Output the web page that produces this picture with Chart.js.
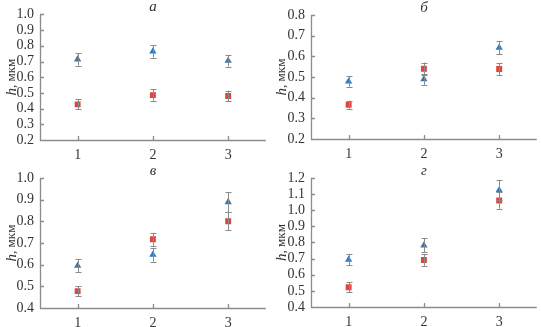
<!DOCTYPE html>
<html>
<head>
<meta charset="utf-8">
<script src="https://cdn.jsdelivr.net/npm/chart.js@4/dist/chart.umd.min.js"></script>
<style>
  html, body { margin: 0; padding: 0; background: #fff; }
  body { width: 541px; height: 327px; position: relative; overflow: hidden; }
  .p { position: absolute; }
</style>
</head>
<body>
<div class="p" style="left:0;top:0;width:270px;height:160px"><canvas id="ca"></canvas></div>
<div class="p" style="left:270px;top:0;width:271px;height:160px"><canvas id="cb"></canvas></div>
<div class="p" style="left:0;top:160px;width:270px;height:167px"><canvas id="cc"></canvas></div>
<div class="p" style="left:270px;top:160px;width:271px;height:167px"><canvas id="cd"></canvas></div>
<script>
// ---- data ----
const categories = [1, 2, 3];
const panelTitles = ['а', 'б', 'в', 'г'];

const triA = [0.714, 0.764, 0.705];
const triErrA = [0.040, 0.039, 0.037];
const sqA = [0.427, 0.486, 0.480];
const sqErrA = [0.032, 0.036, 0.034];

const triB = [0.479, 0.489, 0.642];
const triErrB = [0.026, 0.027, 0.033];
const sqB = [0.366, 0.540, 0.539];
const sqErrB = [0.020, 0.030, 0.029];

const triC = [0.595, 0.646, 0.889];
const triErrC = [0.030, 0.032, 0.046];
const sqC = [0.478, 0.717, 0.800];
const sqErrC = [0.023, 0.030, 0.042];

const triD = [0.694, 0.782, 1.124];
const triErrD = [0.035, 0.044, 0.062];
const sqD = [0.522, 0.692, 1.061];
const sqErrD = [0.030, 0.036, 0.052];

const yMinA = 0.2, yMaxA = 1.0, yStepA = 0.1;
const yMinB = 0.2, yMaxB = 0.8, yStepB = 0.1;
const yMinC = 0.4, yMaxC = 1.0, yStepC = 0.1;
const yMinD = 0.4, yMaxD = 1.2, yStepD = 0.1;

// ---- styling ----
const BLUE = '#2f79bd';
const RED = '#dc4640';
const ERR = '#8a8a8a';
const AXIS = '#8c8c8c';
const TXT = '#333333';
const FONT = "'Liberation Serif', 'Times New Roman', serif";

const decorPlugin = {
  id: 'decor',
  afterDatasetsDraw(chart, args, opts) {
    const ctx = chart.ctx;
    const xs = chart.scales.x, ys = chart.scales.y;
    const ca = chart.chartArea;
    ctx.save();
    // error bars
    ctx.strokeStyle = ERR;
    ctx.lineWidth = 1;
    chart.data.datasets.forEach(ds => {
      ds.data.forEach((pt, i) => {
        const e = ds.errors[i];
        const px = Math.round(xs.getPixelForValue(pt.x)) + 0.5;
        const y1 = ys.getPixelForValue(pt.y + e);
        const y2 = ys.getPixelForValue(pt.y - e);
        ctx.beginPath();
        ctx.moveTo(px, y1); ctx.lineTo(px, y2);
        ctx.moveTo(px - 3, Math.round(y1) + 0.5); ctx.lineTo(px + 3, Math.round(y1) + 0.5);
        ctx.moveTo(px - 3, Math.round(y2) + 0.5); ctx.lineTo(px + 3, Math.round(y2) + 0.5);
        ctx.stroke();
      });
    });
    // axes
    ctx.strokeStyle = AXIS;
    ctx.lineWidth = 1.3;
    ctx.beginPath();
    ctx.moveTo(ca.left + 0.5, ca.top);
    ctx.lineTo(ca.left + 0.5, ca.bottom + 0.5);
    ctx.lineTo(ca.right, ca.bottom + 0.5);
    ys.ticks.forEach(t => {
      const py = Math.round(ys.getPixelForValue(t.value)) + 0.5;
      ctx.moveTo(ca.left, py); ctx.lineTo(ca.left + 4, py);
    });
    xs.ticks.forEach(t => {
      const px = Math.round(xs.getPixelForValue(t.value)) + 0.5;
      ctx.moveTo(px, ca.bottom); ctx.lineTo(px, ca.bottom - 4);
    });
    ctx.stroke();
    // panel title
    ctx.fillStyle = TXT;
    ctx.font = 'italic 15px ' + FONT;
    ctx.textAlign = 'center';
    ctx.textBaseline = 'middle';
    ctx.fillText(opts.title, xs.getPixelForValue(2), ca.top - 7);
    // y title
    ctx.translate(12, (ca.top + ca.bottom) / 2);
    ctx.rotate(-Math.PI / 2);
    ctx.textBaseline = 'middle';
    ctx.textAlign = 'left';
    ctx.font = 'italic 15px ' + FONT;
    const w1 = ctx.measureText('h').width;
    ctx.font = '13px ' + FONT;
    const rest = ', мкм';
    const w2 = ctx.measureText(rest).width;
    const start = -(w1 + w2) / 2;
    ctx.font = 'italic 15px ' + FONT;
    ctx.fillText('h', start, 0);
    ctx.font = '13px ' + FONT;
    ctx.fillText(rest, start + w1, 0);
    ctx.restore();
  }
};

function makeChart(id, title, tri, triErr, sq, sqErr, yMin, yMax, yStep, pad) {
  const toPts = arr => categories.map((c, i) => ({ x: c, y: arr[i] }));
  new Chart(document.getElementById(id), {
    type: 'scatter',
    data: {
      datasets: [
        { data: toPts(sq), errors: sqErr, pointStyle: 'rect', pointRadius: 4.2,
          backgroundColor: RED, borderColor: RED, borderWidth: 0 },
        { data: toPts(tri), errors: triErr, pointStyle: 'triangle', pointRadius: 4.2,
          backgroundColor: BLUE, borderColor: BLUE, borderWidth: 0 }
      ]
    },
    options: {
      responsive: true,
      maintainAspectRatio: false,
      animation: false,
      layout: { padding: { top: pad.top, right: pad.right, left: 0, bottom: 0 } },
      plugins: { legend: { display: false }, tooltip: { enabled: false }, decor: { title: title } },
      scales: {
        x: {
          type: 'linear', min: 0.5, max: 3.5,
          afterBuildTicks: s => { s.ticks = categories.map(v => ({ value: v })); },
          afterFit: s => { s.height = pad.xh; },
          grid: { display: false, drawTicks: false },
          border: { display: false },
          ticks: { autoSkip: false, padding: 7, color: TXT, font: { family: FONT, size: 14 } }
        },
        y: {
          min: yMin, max: yMax,
          afterFit: s => { s.width = pad.yw; },
          grid: { display: false, drawTicks: false },
          border: { display: false },
          ticks: { autoSkip: false, stepSize: yStep, padding: 6, color: TXT, font: { family: FONT, size: 14 },
                   callback: v => Number(v).toFixed(1) }
        }
      }
    },
    plugins: [decorPlugin]
  });
}

makeChart('ca', panelTitles[0], triA, triErrA, sqA, sqErrA, yMinA, yMaxA, yStepA, { top: 14, right: 2, xh: 20, yw: 40 });
makeChart('cb', panelTitles[1], triB, triErrB, sqB, sqErrB, yMinB, yMaxB, yStepB, { top: 15, right: 3, xh: 21, yw: 41 });
makeChart('cc', panelTitles[2], triC, triErrC, sqC, sqErrC, yMinC, yMaxC, yStepC, { top: 18, right: 2, xh: 19, yw: 40 });
makeChart('cd', panelTitles[3], triD, triErrD, sqD, sqErrD, yMinD, yMaxD, yStepD, { top: 18, right: 3, xh: 20, yw: 41 });
</script>
</body>
</html>
